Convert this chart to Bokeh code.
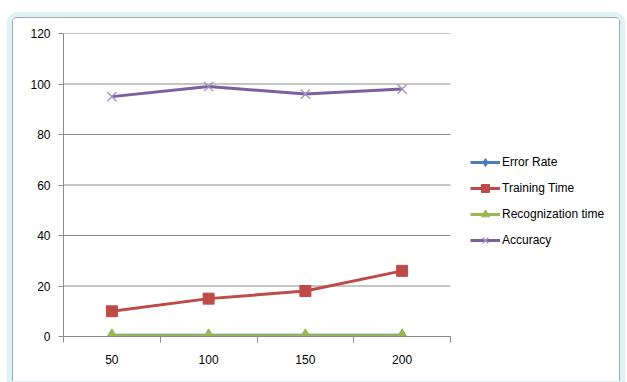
from bokeh.plotting import figure
from bokeh.models import FixedTicker, Range1d, Legend, LegendItem
from bokeh.embed import file_html
from bokeh.resources import INLINE

# Data
categories = ["50", "100", "150", "200"]
error_rate = [0.5, 0.5, 0.5, 0.5]
training_time = [10, 15, 18, 26]
recognition_time = [0.3, 0.3, 0.3, 0.3]
accuracy = [95, 99, 96, 98]
y_ticks = [0, 20, 40, 60, 80, 100, 120]

n = len(categories)
xs = [i + 0.5 for i in range(n)]
FONT = "Liberation Sans"
GRID = "#8c8c8c"

# Layout: the plotting area spans the whole width so the legend can sit
# to the right of the gridded part without being clipped.
W, H = 608, 364
LEFT, RIGHT = 50, 2
GRID_PX = 387  # width of the gridded part
x_max = n * (W - LEFT - RIGHT) / GRID_PX

p = figure(width=W, height=H, output_backend="svg", toolbar_location=None,
           x_range=Range1d(0, x_max), y_range=Range1d(0, 120),
           min_border_left=LEFT, min_border_top=15, min_border_bottom=46,
           min_border_right=RIGHT, background_fill_color="white",
           border_fill_color="white", outline_line_color=None)
p.styles = {"margin-left": "12px", "margin-top": "17px",
            "border-left": "1px solid #a0a8aa", "border-top": "1px solid #a0a8aa",
            "border-right": "1px solid #a0a8aa",
            "box-shadow": "0 0 0 5px #dff2f4", "border-radius": "5px 5px 0 0"}

# Axes
p.xaxis.bounds = (0, n)
p.xaxis.ticker = FixedTicker(ticks=xs, minor_ticks=list(range(n + 1)))
p.xaxis.major_label_overrides = {x: c for x, c in zip(xs, categories)}
p.xaxis.major_tick_line_color = None
p.xaxis.minor_tick_line_color = GRID
p.xaxis.minor_tick_out = 6
p.xaxis.minor_tick_in = 0
p.xaxis.axis_line_color = GRID
p.xaxis.major_label_text_font = FONT
p.xaxis.major_label_text_font_size = "12px"
p.xaxis.major_label_text_color = "#000000"
p.xaxis.major_label_standoff = 12

p.yaxis.ticker = FixedTicker(ticks=y_ticks, minor_ticks=[])
p.yaxis.major_tick_line_color = GRID
p.yaxis.major_tick_out = 5
p.yaxis.major_tick_in = 0
p.yaxis.axis_line_color = GRID
p.yaxis.major_label_text_font = FONT
p.yaxis.major_label_text_font_size = "12px"
p.yaxis.major_label_text_color = "#000000"
p.yaxis.major_label_standoff = 8

p.xgrid.grid_line_color = None
p.ygrid.grid_line_color = None
# horizontal gridlines limited to the category span
p.segment(x0=[0] * len(y_ticks), x1=[n] * len(y_ticks), y0=y_ticks, y1=y_ticks,
          line_color=GRID, line_width=1)

# Series: (label, values, line colour, marker, marker size, marker colour)
series = [
    ("Error Rate", error_rate, "#4a7ebb", "diamond", 11, "#4a7ebb"),
    ("Training Time", training_time, "#be4b48", "square", 11, "#be4b48"),
    ("Recognization time", recognition_time, "#98b954", "triangle", 12, "#98b954"),
    ("Accuracy", accuracy, "#7d5fa0", "x", 13, "#a592c8"),
]
items = []
for name, vals, color, marker, size, mcolor in series:
    ln = p.line(xs, vals, line_color=color, line_width=3)
    mk = p.scatter(xs, vals, marker=marker, size=size, fill_color=mcolor,
                   line_color=mcolor, line_width=1 if marker != "x" else 1.4)
    items.append(LegendItem(label=name, renderers=[ln, mk]))

legend = Legend(items=items, location=(407, 86), orientation="vertical",
                glyph_width=30, glyph_height=20, spacing=6, padding=0,
                margin=0, label_standoff=2, border_line_color=None,
                background_fill_alpha=0,
                label_text_font=FONT, label_text_font_size="12px",
                label_text_color="#000000")
p.add_layout(legend, "center")

open("out.html", "w").write(file_html(p, INLINE))
